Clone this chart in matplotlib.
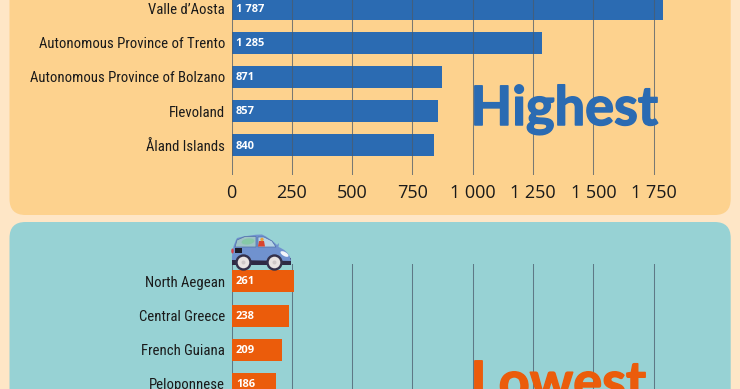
import matplotlib
matplotlib.use("Agg")
import matplotlib.pyplot as plt
import matplotlib.patheffects as pe
from matplotlib.patches import FancyBboxPatch, Circle, Ellipse, Polygon, PathPatch
from matplotlib.path import Path

W, H = 740, 389

high_labels = ["Valle d’Aosta", "Autonomous Province of Trento",
               "Autonomous Province of Bolzano", "Flevoland", "Åland Islands"]
high_values = [1787, 1285, 871, 857, 840]
low_labels = ["North Aegean", "Central Greece", "French Guiana", "Peloponnese"]
low_values = [261, 238, 209, 186]
tick_values = [0, 250, 500, 750, 1000, 1250, 1500, 1750]
tick_labels = ["0", "250", "500", "750", "1 000", "1 250", "1 500", "1 750"]

BG, PEACH, TEAL = "#FEE6C6", "#FDD28E", "#97D2D4"
BLUE, ORANGE = "#2B6BB2", "#EB5C0B"
GRID, INK = "#4C5C6C", "#1A1A1A"
NARROW = "Roboto Condensed"
REG = "Open Sans"

fig = plt.figure(figsize=(W / 100, H / 100), dpi=100, facecolor=BG)


def px_axes(left, top, right, bottom, z):
    ax = fig.add_axes([left / W, 1 - bottom / H, (right - left) / W, (bottom - top) / H])
    ax.set_zorder(z)
    ax.patch.set_alpha(0)
    return ax


bg = px_axes(0, 0, W, H, 0)
bg.set_xlim(0, W); bg.set_ylim(H, 0); bg.axis("off")
for y0, y1, c in [(-40, 215, PEACH), (222, 440, TEAL)]:
    bg.add_patch(FancyBboxPatch((9.5 + 16, y0 + 16), 721.2 - 32, y1 - y0 - 32,
                                boxstyle="round,pad=16,rounding_size=16",
                                fc=c, ec="none"))


def bars(ax, labels, values, color, first, pitch, label_offset):
    pos_box = ax.get_position()
    t = (1 - pos_box.y1) * H
    b = (1 - pos_box.y0) * H
    ax.set_ylim((b - first) / pitch, (t - first) / pitch)
    ax.set_xlim(0, 2000)
    pos = list(range(len(values)))
    ax.barh(pos, values, height=22 / pitch, color=color, zorder=1.5)
    ax.set_yticks(pos, labels, fontfamily=NARROW, fontsize=10.6, color=INK)
    ax.set_xticks(tick_values)
    ax.grid(axis="x", color=GRID, alpha=0.75, lw=0.75)
    ax.grid(axis="y", visible=False)
    for s in ax.spines.values():
        s.set_visible(False)
    ax.tick_params(axis="y", length=0, pad=4.6)
    for p, v in zip(pos, values):
        ax.text(label_offset, p + 0.02, f"{v:,}".replace(",", " "), va="center",
                ha="left", color="white", fontsize=8, fontweight="bold",
                fontfamily=REG, zorder=4)


# x scale: 0 at 231.5 px, 2000 at 714 px
top_ax = px_axes(231.5, 0, 714, 174.7, 1)
bars(top_ax, high_labels, high_values, BLUE, 8.6, 34.18, 18)
top_ax.set_axisbelow(False)
top_ax.set_xticklabels(tick_labels, fontfamily=REG, fontsize=13, color=INK)
top_ax.tick_params(axis="x", length=0, pad=7)

low_ax = px_axes(231.5, 264, 714, H, 1)
bars(low_ax, low_labels, low_values, ORANGE, 281.3, 34.2, 18)
low_ax.set_axisbelow(True)
low_ax.set_xticklabels([])
low_ax.tick_params(axis="x", length=0)

fg = px_axes(0, 0, W, H, 2)
fg.set_xlim(0, W); fg.set_ylim(H, 0); fg.axis("off")
for txt, y, col in [("Highest", 125, BLUE), ("Lowest", 400, ORANGE)]:
    t = fg.text(470.5, y, txt, color=col, fontsize=39, fontweight="bold",
                fontfamily="Lato", va="baseline", ha="left")
    t.set_path_effects([pe.withStroke(linewidth=1.1, foreground=col)])

# car illustration sitting on the first lower bar (decoration, in pixels)
fg.add_patch(Polygon([(232, 258), (291, 258), (291, 265), (232, 265)], fc="#2E2A44", ec="none"))
body = Path([(232, 260), (231.5, 248), (237, 238), (250, 234.5), (262, 234.5), (270, 238),
             (277, 245), (279, 243), (278.5, 247), (287, 250), (290.5, 258), (291, 261), (232, 260)],
            [Path.MOVETO, Path.CURVE3, Path.CURVE3, Path.CURVE3, Path.CURVE3, Path.CURVE3,
             Path.LINETO, Path.LINETO, Path.LINETO, Path.CURVE3, Path.CURVE3, Path.LINETO, Path.CLOSEPOLY])
fg.add_patch(PathPatch(body, fc="#7092CF", ec="none"))
fg.add_patch(Polygon([(235, 247), (237, 240), (245, 236.5), (256, 236.5), (256, 247)],
                     fc="#9FC4C6", ec="#4E6FA8", lw=0.5))
fg.add_patch(Ellipse((248, 241.5), 13, 6, angle=-8, fc="#86C9A8", ec="none"))
fg.add_patch(Polygon([(258, 247), (258, 237), (264, 237), (272, 241), (276, 247)],
                     fc="#B6D3E6", ec="#4E6FA8", lw=0.5))
fg.add_patch(Polygon([(258, 246.5), (259, 241), (264, 241), (265, 246.5)], fc="#D9442F", ec="none"))
fg.add_patch(Circle((262, 239.5), 1.7, fc="#E8A33A", ec="none"))
fg.add_patch(Polygon([(234.5, 247.5), (242, 247.5), (242, 252.5), (234.5, 252.5)], fc="#1C1C2A", ec="none"))
fg.add_patch(Ellipse((232.5, 251), 2.5, 5, fc="#D8404A", ec="none"))
fg.add_patch(Ellipse((284.5, 254), 9, 4, angle=30, fc="#F4F6FA", ec="none"))
for cx in (243.5, 274.5):
    fg.add_patch(Circle((cx, 262.5), 8.2, fc="#33304A", ec="none"))
    fg.add_patch(Circle((cx, 262.5), 5.8, fc="#E9E3E1", ec="none"))
    fg.add_patch(Circle((cx, 262.5), 2, fc="#CFC8C8", ec="none"))

fig.savefig("out.png", dpi=100, facecolor=BG)
